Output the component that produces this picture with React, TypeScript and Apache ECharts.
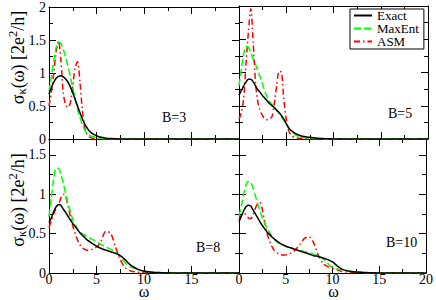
import { useEffect, useRef } from "react";
import * as echarts from "echarts";

// ---- data ----
const OMEGA = [0, 0.25, 0.5, 0.75, 1, 1.25, 1.5, 1.75, 2, 2.25, 2.5, 2.75, 3, 3.25, 3.5, 3.75, 4, 4.25, 4.5, 4.75, 5, 5.25, 5.5, 6, 6.5, 7, 7.5, 8, 8.5, 9, 9.5, 10, 10.5, 11, 11.5, 12, 13, 14, 16, 18, 20];

const B3_EXACT = [0.68, 0.78, 0.86, 0.92, 0.95, 0.96, 0.94, 0.91, 0.86, 0.79, 0.70, 0.60, 0.50, 0.40, 0.31, 0.23, 0.17, 0.12, 0.09, 0.065, 0.05, 0.035, 0.025, 0.012, 0.006, 0.003, 0.001, 0, 0, 0, 0, 0, 0, 0, 0, 0, 0, 0, 0, 0, 0];
const B3_MAXENT = [0.72, 0.95, 1.18, 1.38, 1.47, 1.45, 1.36, 1.24, 1.10, 0.94, 0.78, 0.62, 0.46, 0.33, 0.22, 0.14, 0.09, 0.06, 0.04, 0.03, 0.02, 0.015, 0.01, 0.005, 0.002, 0, 0, 0, 0, 0, 0, 0, 0, 0, 0, 0, 0, 0, 0, 0, 0];
const B3_ASM = [0.50, 0.72, 1.00, 1.32, 1.48, 1.20, 0.70, 0.52, 0.48, 0.55, 0.80, 1.08, 1.17, 0.88, 0.45, 0.18, 0.07, 0.03, 0.015, 0.008, 0.004, 0, 0, 0, 0, 0, 0, 0, 0, 0, 0, 0, 0, 0, 0, 0, 0, 0, 0, 0, 0];

const B5_EXACT = [0.66, 0.73, 0.80, 0.86, 0.90, 0.90, 0.86, 0.80, 0.74, 0.70, 0.65, 0.61, 0.57, 0.53, 0.50, 0.47, 0.43, 0.40, 0.35, 0.30, 0.23, 0.17, 0.13, 0.08, 0.05, 0.035, 0.025, 0.015, 0.01, 0.006, 0.003, 0.001, 0, 0, 0, 0, 0, 0, 0, 0, 0];
const B5_MAXENT = [0.80, 1.05, 1.28, 1.39, 1.38, 1.30, 1.20, 1.12, 1.03, 0.93, 0.82, 0.71, 0.62, 0.56, 0.51, 0.47, 0.43, 0.38, 0.33, 0.28, 0.23, 0.17, 0.12, 0.06, 0.035, 0.02, 0.012, 0.006, 0.003, 0.001, 0, 0, 0, 0, 0, 0, 0, 0, 0, 0, 0];
const B5_ASM = [0.30, 0.40, 0.62, 1.15, 1.62, 1.96, 1.45, 0.85, 0.55, 0.42, 0.35, 0.30, 0.29, 0.30, 0.34, 0.55, 0.82, 1.02, 1.00, 0.58, 0.30, 0.13, 0.06, 0.02, 0.01, 0.005, 0, 0, 0, 0, 0, 0, 0, 0, 0, 0, 0, 0, 0, 0, 0];

const B8_EXACT = [0.64, 0.70, 0.78, 0.84, 0.87, 0.86, 0.81, 0.77, 0.72, 0.67, 0.63, 0.59, 0.55, 0.51, 0.48, 0.45, 0.42, 0.40, 0.38, 0.36, 0.34, 0.325, 0.31, 0.29, 0.27, 0.25, 0.22, 0.17, 0.11, 0.07, 0.04, 0.025, 0.015, 0.01, 0.006, 0.003, 0.001, 0, 0, 0, 0];
const B8_MAXENT = [0.72, 0.95, 1.20, 1.33, 1.33, 1.25, 1.14, 1.01, 0.88, 0.78, 0.68, 0.61, 0.56, 0.52, 0.50, 0.48, 0.46, 0.445, 0.43, 0.415, 0.40, 0.38, 0.36, 0.33, 0.30, 0.27, 0.21, 0.13, 0.08, 0.06, 0.04, 0.02, 0.012, 0.008, 0.005, 0.003, 0.001, 0, 0, 0, 0];
const B8_ASM = [0.58, 0.66, 0.75, 0.82, 0.87, 0.95, 1.00, 0.97, 0.85, 0.72, 0.60, 0.50, 0.42, 0.36, 0.32, 0.30, 0.29, 0.29, 0.30, 0.31, 0.33, 0.36, 0.41, 0.53, 0.50, 0.33, 0.17, 0.07, 0.03, 0.015, 0.01, 0.006, 0.003, 0.001, 0, 0, 0, 0, 0, 0, 0];

const B10_EXACT = [0.65, 0.72, 0.79, 0.84, 0.86, 0.85, 0.80, 0.75, 0.70, 0.65, 0.60, 0.56, 0.52, 0.49, 0.46, 0.435, 0.41, 0.39, 0.37, 0.355, 0.34, 0.33, 0.32, 0.30, 0.28, 0.26, 0.24, 0.22, 0.21, 0.19, 0.17, 0.14, 0.09, 0.05, 0.03, 0.02, 0.008, 0.003, 0, 0, 0];
const B10_MAXENT = [0.72, 0.85, 1.00, 1.12, 1.16, 1.15, 1.08, 0.98, 0.88, 0.79, 0.70, 0.63, 0.57, 0.52, 0.47, 0.43, 0.40, 0.38, 0.36, 0.35, 0.34, 0.33, 0.32, 0.30, 0.29, 0.27, 0.26, 0.24, 0.21, 0.18, 0.12, 0.07, 0.05, 0.04, 0.03, 0.02, 0.01, 0.004, 0.001, 0, 0];
const B10_ASM = [0.68, 0.73, 0.76, 0.74, 0.70, 0.69, 0.74, 0.82, 0.88, 0.89, 0.80, 0.64, 0.50, 0.41, 0.34, 0.29, 0.26, 0.245, 0.23, 0.228, 0.23, 0.24, 0.25, 0.29, 0.36, 0.44, 0.46, 0.38, 0.22, 0.12, 0.08, 0.06, 0.04, 0.02, 0.012, 0.008, 0.003, 0, 0, 0, 0];

const PANEL_LABELS = ["B=3", "B=5", "B=8", "B=10"];
const SERIES_NAMES = ["Exact", "MaxEnt", "ASM"];
const PANEL_VALUES = [
  [B3_EXACT, B3_MAXENT, B3_ASM],
  [B5_EXACT, B5_MAXENT, B5_ASM],
  [B8_EXACT, B8_MAXENT, B8_ASM],
  [B10_EXACT, B10_MAXENT, B10_ASM],
];
const X_MIN = 0;
const X_MAX = 20;
const X_STEP = 5;
const Y_MAX_TOP = 2;
const Y_MAX_BOTTOM = 1.7;
const Y_STEP = 0.5;
const Y_TITLE = "{a|σ}{b|κ}{a|(ω) [2e}{c|2}{a|/h]}";
const X_TITLE = "ω";

// ---- layout / style ----
const FONT = "Liberation Serif";
const LAYOUT = [
  { left: 49, top: 6, width: 190, height: 133, row: 0, col: 0, lx: 162, ly: 117 },
  { left: 239, top: 6, width: 189, height: 133, row: 0, col: 1, lx: 388, ly: 113 },
  { left: 49, top: 139, width: 190, height: 134, row: 1, col: 0, lx: 196, ly: 247 },
  { left: 239, top: 139, width: 189, height: 134, row: 1, col: 1, lx: 386, ly: 242 },
];
const LINE_STYLES = [
  { color: "#000000", width: 1.5, type: "solid" },
  { color: "#00ff00", width: 1.5, type: [7, 3] },
  { color: "#ff0000", width: 1.5, type: [6, 3, 1.5, 3] },
];

function buildOption() {
  const grids: any[] = [];
  const xAxes: any[] = [];
  const yAxes: any[] = [];
  const series: any[] = [];
  const graphics: any[] = [];
  const tickLine = { color: "#000", width: 1 };
  const labelStyle = { color: "#000", fontFamily: FONT, fontSize: 14, lineHeight: 13 };

  LAYOUT.forEach((L, g) => {
    grids.push({ left: L.left, top: L.top, width: L.width, height: L.height, containLabel: false, show: false });
    const yMax = L.row === 0 ? Y_MAX_TOP : Y_MAX_BOTTOM;
    const xLabelShow = L.row === 1;
    const yLabelShow = L.col === 0;
    const hideLastX = L.col === 0;
    (["bottom", "top"] as const).forEach((pos) => {
      xAxes.push({
        type: "value", gridIndex: g, position: pos, min: X_MIN, max: X_MAX, interval: X_STEP,
        axisLine: { show: true, onZero: false, lineStyle: tickLine },
        axisTick: { show: true, inside: true, length: 7, lineStyle: tickLine },
        minorTick: { show: true, splitNumber: 2, length: 4, lineStyle: tickLine },
        splitLine: { show: false }, minorSplitLine: { show: false },
        axisLabel: {
          show: pos === "bottom" && xLabelShow, margin: 0, ...labelStyle,
          formatter: (v: number) => (hideLastX && v === X_MAX ? "" : String(v)),
        },
      });
    });
    (["left", "right"] as const).forEach((pos) => {
      yAxes.push({
        type: "value", gridIndex: g, position: pos, min: 0, max: yMax, interval: Y_STEP,
        axisLine: { show: true, onZero: false, lineStyle: tickLine },
        axisTick: { show: true, inside: true, length: 7, lineStyle: tickLine },
        splitLine: { show: false },
        axisLabel: {
          show: pos === "left" && yLabelShow, margin: 3, ...labelStyle,
          formatter: (v: number) => (Math.abs(v / Y_STEP - Math.round(v / Y_STEP)) < 1e-9 ? String(v) : ""),
        },
      });
      yAxes.push({
        type: "value", gridIndex: g, position: pos, min: 0, max: yMax, interval: Y_STEP / 2,
        axisLine: { show: false, onZero: false },
        axisTick: { show: true, inside: true, length: 4, lineStyle: tickLine },
        splitLine: { show: false },
        axisLabel: { show: false },
      });
    });

    PANEL_VALUES[g].forEach((vals, k) => {
      series.push({
        name: SERIES_NAMES[k], type: "line", xAxisIndex: 2 * g, yAxisIndex: 4 * g,
        data: OMEGA.map((w, i) => [w, vals[i]]),
        symbol: "none", showSymbol: false, smooth: 0.3, silent: true,
        lineStyle: LINE_STYLES[k], itemStyle: { color: LINE_STYLES[k].color },
        z: 3 - k,
      });
    });

    graphics.push({
      type: "text", x: L.lx, y: L.ly,
      style: { text: PANEL_LABELS[g], fontFamily: FONT, fontSize: 14, fill: "#000", align: "left", verticalAlign: "middle" },
    });
  });

  const richY = {
    a: { fontFamily: FONT, fontSize: 18, fill: "#000" },
    b: { fontFamily: FONT, fontSize: 12.5, fill: "#000", padding: [8, 0, 0, 0] },
    c: { fontFamily: FONT, fontSize: 12.5, fill: "#000", padding: [0, 0, 9, 0] },
  };
  [57.5, 200].forEach((cy) => {
    graphics.push({
      type: "text", x: 17.5, y: cy, rotation: Math.PI / 2,
      style: { text: Y_TITLE, rich: richY, fontFamily: FONT, fontSize: 18, fill: "#000", align: "center", verticalAlign: "middle" },
    });
  });
  [144, 333.5].forEach((cx) => {
    graphics.push({
      type: "text", x: cx, y: 291.5,
      style: { text: X_TITLE, fontFamily: FONT, fontSize: 16, lineHeight: 11, fill: "#000", align: "center", verticalAlign: "middle" },
    });
  });

  return {
    animation: false,
    backgroundColor: "#fff",
    grid: grids,
    xAxis: xAxes,
    yAxis: yAxes,
    series,
    graphic: graphics,
    legend: {
      data: SERIES_NAMES, orient: "vertical", left: 350, top: 9,
      itemWidth: 18, itemHeight: 14, itemGap: 0, padding: [0, 5, 1, 3],
      borderColor: "#000", borderWidth: 1, backgroundColor: "#fff",
      itemStyle: { opacity: 0 },
      textStyle: { fontFamily: FONT, fontSize: 13, lineHeight: 13, color: "#000" },
      selectedMode: false,
    },
  };
}

export default function App() {
  const ref = useRef<HTMLDivElement>(null);
  useEffect(() => {
    const chart = echarts.init(ref.current!, null, { renderer: "svg" });
    chart.setOption(buildOption() as any);
    return () => chart.dispose();
  }, []);
  return (
    <div
      ref={ref}
      style={{ position: "fixed", left: 0, top: 0, width: 436, height: 300, background: "#fff" }}
    />
  );
}
